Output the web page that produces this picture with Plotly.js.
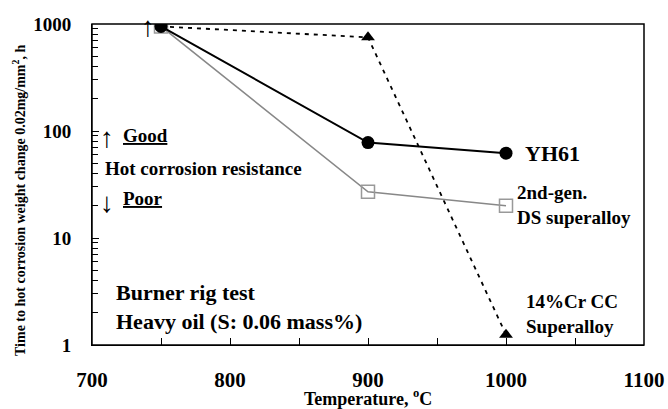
<!DOCTYPE html>
<html><head><meta charset="utf-8">
<script src="https://cdn.plot.ly/plotly-3.0.1.min.js"></script>
<style>html,body{margin:0;padding:0;background:#fff}</style>
</head><body><div id="chart" style="width:668px;height:409px"></div>
<script>
var temps = [750, 900, 1000];
var yh61 = [950, 78, 62];
var ds2 = [950, 27, 20];
var cr14 = [950, 750, 1.25];
var xTicks = [700, 800, 900, 1000, 1100];
var xMinor = [750, 850, 950, 1050];
var yTicks = [1, 10, 100, 1000];

var traces = [
  {x: temps, y: cr14, mode: 'lines+markers', line: {color: '#000', width: 1.8, dash: '4px,5px'},
   marker: {symbol: 'triangle-up', size: 12, color: '#000'}},
  {x: temps, y: ds2, mode: 'lines+markers', line: {color: '#888', width: 1.6},
   marker: {symbol: 'square-open', size: 13, color: '#999', line: {width: 1.5}}},
  {x: temps, y: yh61, mode: 'lines+markers', line: {color: '#000', width: 2},
   marker: {symbol: 'circle', size: 13, color: '#000'}}
];
var minorY = [];
[1,10,100].forEach(function(d){for(var k=2;k<=9;k++)minorY.push(d*k);});
function px(x){return (x-92)/552;}
function py(y){return (345-y)/321;}
var layout = {
  width: 668, height: 409,
  margin: {l: 92, r: 24, t: 24, b: 64},
  showlegend: false,
  font: {family: 'Liberation Serif', color: '#000'},
  xaxis: {range: [700, 1100], tickmode: 'array', tickvals: xTicks,
    ticks: 'inside', ticklen: 7, tickcolor: '#000', gridcolor: 'rgba(0,0,0,0)',
    minor: {tickmode: 'array', tickvals: xMinor, ticks: 'inside', ticklen: 7, tickcolor: '#000'},
    showline: true, linecolor: '#000', ticklabelstandoff: 16,
    tickfont: {size: 21, weight: 'bold'}},
  yaxis: {type: 'log', range: [0, 3], tickmode: 'array', tickvals: yTicks,
    ticks: 'inside', ticklen: 7, tickcolor: '#000', gridcolor: 'rgba(0,0,0,0)',
    minor: {tickmode: 'array', tickvals: minorY, ticks: 'inside', ticklen: 6, tickcolor: '#000', gridcolor: 'rgba(0,0,0,0)'},
    showline: true, linecolor: '#000', ticklabelstandoff: 16,
    tickfont: {size: 19, weight: 'bold'}},
  shapes: [
    {type: 'rect', xref: 'paper', yref: 'paper', x0: 0, x1: 1, y0: 0, y1: 1, line: {color: '#000', width: 1.5}}
  ],
  annotations: [
    {xref: 'paper', yref: 'paper', x: px(368), y: py(398), xanchor: 'center', yanchor: 'middle', showarrow: false,
     text: '<b>Temperature, <sup>o</sup>C</b>', font: {size: 18}},
    {xref: 'paper', yref: 'paper', x: px(19), y: py(201), xanchor: 'center', yanchor: 'middle', textangle: -90, showarrow: false,
     text: '<b>Time to hot corrosion weight change 0.02mg/mm<sup>2</sup>, h</b>', font: {size: 14}},
    {xref: 'paper', yref: 'paper', x: px(148), y: py(26), xanchor: 'center', yanchor: 'middle', showarrow: false, text: '<b>↑</b>', font: {size: 28, color: '#000'}},
    {xref: 'paper', yref: 'paper', x: px(107), y: py(137), xanchor: 'center', yanchor: 'middle', showarrow: false, text: '<b>↑</b>', font: {size: 28, color: '#000'}},
    {xref: 'paper', yref: 'paper', x: px(107), y: py(203), xanchor: 'center', yanchor: 'middle', showarrow: false, text: '<b>↓</b>', font: {size: 28, color: '#000'}},
    {xref: 'paper', yref: 'paper', x: px(121), y: py(135), xanchor: 'left', yanchor: 'middle', showarrow: false, text: '<b><u>Good</u></b>', font: {size: 19}},
    {xref: 'paper', yref: 'paper', x: px(103), y: py(168), xanchor: 'left', yanchor: 'middle', showarrow: false, text: '<b>Hot corrosion resistance</b>', font: {size: 19}},
    {xref: 'paper', yref: 'paper', x: px(121), y: py(199), xanchor: 'left', yanchor: 'middle', showarrow: false, text: '<b><u>Poor</u></b>', font: {size: 19}},
    {xref: 'paper', yref: 'paper', x: px(523), y: py(153), xanchor: 'left', yanchor: 'middle', showarrow: false, text: '<b>YH61</b>', font: {size: 22}},
    {xref: 'paper', yref: 'paper', x: px(515), y: py(205), xanchor: 'left', yanchor: 'middle', align: 'left', showarrow: false, text: '<b>2nd-gen.<br>DS superalloy</b>', font: {size: 19}},
    {xref: 'paper', yref: 'paper', x: px(524), y: py(314), xanchor: 'left', yanchor: 'middle', align: 'left', showarrow: false, text: '<b>14%Cr CC<br>Superalloy</b>', font: {size: 19}},
    {xref: 'paper', yref: 'paper', x: px(114), y: py(307), xanchor: 'left', yanchor: 'middle', align: 'left', showarrow: false, text: '<b>Burner rig test<br>Heavy oil (S: 0.06 mass%)</b>', font: {size: 22}}
  ]
};
Plotly.newPlot('chart', traces, layout, {displayModeBar: false, staticPlot: true});
</script></body></html>
